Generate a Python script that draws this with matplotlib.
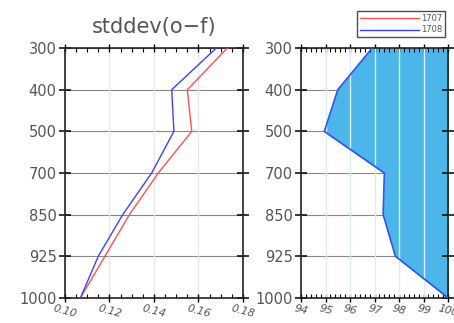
import numpy as np
import matplotlib
matplotlib.use('Agg')
import matplotlib.pyplot as plt
from matplotlib.ticker import MultipleLocator

# pressure levels (hPa), drawn equally spaced
levels = ['300', '400', '500', '700', '850', '925', '1000']
# stddev(o-f) per run
std_1707 = [0.173, 0.155, 0.157, 0.142, 0.129, 0.118, 0.107]
std_1708 = [0.168, 0.148, 0.149, 0.139, 0.126, 0.115, 0.107]
# percentage of data used (run 1708)
pct_1708 = [96.9, 95.5, 94.95, 97.4, 97.35, 97.85, 100.0]

txt = '#555555'
y = np.arange(len(levels))

fig = plt.figure(figsize=(4.54, 3.23), dpi=100)
ax1 = fig.add_axes([0.143, 0.078, 0.392, 0.773])
ax2 = fig.add_axes([0.663, 0.078, 0.324, 0.773])

for ax in (ax1, ax2):
    ax.set_ylim(len(levels) - 1, 0)
    ax.set_yticks(y)
    ax.set_yticklabels(levels, color=txt, fontsize=10.5)
    for lv in y:
        ax.axhline(lv, color='#888888', lw=0.8, zorder=1)
    for s in ax.spines.values():
        s.set_linewidth(1.2)
        s.set_color('#222222')
    ax.tick_params(axis='y', which='major', direction='inout', length=8, width=1.1,
                   left=True, right=True, pad=2)
    ax.tick_params(axis='x', which='major', direction='inout', length=6, width=1.0,
                   top=True, bottom=True, pad=1)
    ax.tick_params(axis='x', which='minor', direction='in', length=3, width=0.8,
                   top=True, bottom=True)

# left panel: stddev
ax1.plot(std_1707, y, color='#ff5050', lw=1.0, label='1707', zorder=3)
ax1.plot(std_1708, y, color='#4040ff', lw=1.0, label='1708', zorder=3)
ax1.set_xlim(0.10, 0.18)
ax1.xaxis.set_major_locator(MultipleLocator(0.02))
ax1.xaxis.set_minor_locator(MultipleLocator(0.005))
ax1.set_xticklabels([f'{v:.2f}' for v in ax1.get_xticks()], color=txt, fontsize=7.8,
                    style='italic', rotation=-15)
ax1.grid(axis='x', color='#e6e6e6', lw=0.8, zorder=0)
ax1.set_title('stddev(o\u2212f)', color=txt, fontsize=15, pad=11)

# right panel: percentage
ax2.fill_betweenx(y, pct_1708, 100, color='#4cb6ea', zorder=1.5)
ax2.plot(pct_1708, y, color='#3355ee', lw=1.2, zorder=3)
ax2.set_xlim(94, 100)
ax2.xaxis.set_major_locator(MultipleLocator(1))
ax2.xaxis.set_minor_locator(MultipleLocator(0.2))
ax2.set_xticklabels([f'{int(v)}' for v in ax2.get_xticks()], color=txt, fontsize=7.8,
                    style='italic', rotation=-15)
ax2.grid(axis='x', color='#eeeeee', lw=0.8, zorder=0)
for xv in range(95, 100):
    ax2.axvline(xv, color='#dcecf6', lw=0.9, zorder=2)

# legend box at top right
h = [plt.Line2D([], [], color='#ff5050', lw=1.0), plt.Line2D([], [], color='#4040ff', lw=1.0)]
leg = fig.legend(h, ['1707', '1708'], loc='upper right', bbox_to_anchor=(0.99, 0.98),
                 fontsize=6, frameon=True, fancybox=False, handlelength=7,
                 borderpad=0.35, labelspacing=0.35, handletextpad=0.3)
leg.get_frame().set_edgecolor('#222222')
leg.get_frame().set_linewidth(1.0)
for t in leg.get_texts():
    t.set_color(txt)

fig.savefig('out.png', dpi=100)
